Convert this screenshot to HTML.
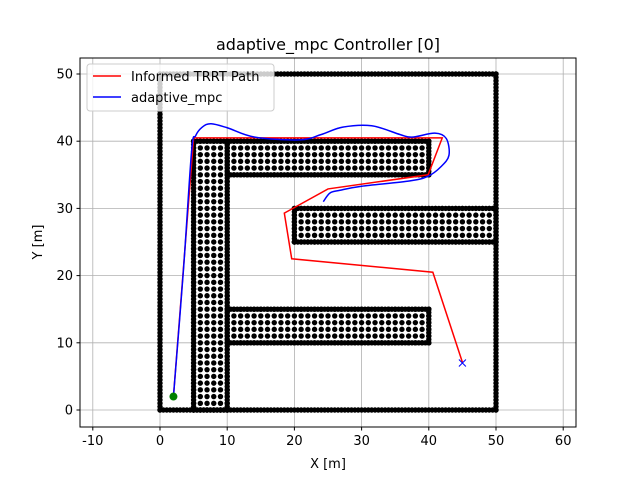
<!DOCTYPE html>
<html><head><meta charset="utf-8"><style>
body{margin:0;background:#fff;}
svg{display:block;font-family:"DejaVu Sans","Liberation Sans",sans-serif;}
</style></head><body>
<svg id="chart" width="640" height="480">
<rect width="640" height="480" fill="#fff"/>
<text x="328" y="50" text-anchor="middle" font-size="16">adaptive_mpc Controller [0]</text>
<g id="grid"></g>
<g id="obs"></g>
<g id="paths"></g>
<rect x="80" y="58" width="496" height="369" fill="none" stroke="#000" stroke-width="1"/>
<g id="ticks" font-size="13"></g>
<text x="328" y="468" text-anchor="middle" font-size="13">X [m]</text>
<text x="0" y="0" transform="translate(42,242) rotate(-90)" text-anchor="middle" font-size="13">Y [m]</text>
<g>
<rect x="87" y="64" width="187" height="47" rx="3" fill="#fff" fill-opacity="0.8" stroke="#ccc"/>
<line x1="93" y1="76" x2="121" y2="76" stroke="red" stroke-width="1.5"/>
<text x="131" y="81" font-size="13">Informed TRRT Path</text>
<line x1="93" y1="97" x2="121" y2="97" stroke="blue" stroke-width="1.5"/>
<text x="131" y="102" font-size="13">adaptive_mpc</text>
</g>
</svg>
<script>
const xTicks=[-10,0,10,20,30,40,50,60];
const yTicks=[0,10,20,30,40,50];
const blocks=[[5,10,0,40],[10,40,35,40],[10,40,10,15],[20,50,25,30]];
const boundary=[0,50,0,50];
const redX=[2,5,42,39.9,25,18.5,19.6,40.6,45];
const redY=[2,40.5,40.5,35,32.9,29.3,22.5,20.5,7.1];
const blueX=[2,3.5,4.7,5.3,6.3,7.6,10,14.1,20.8,24,27.2,31.5,35.7,37.5,40.9,42.6,43,41.8,39.9,37.2,30,26.8,25.3,24.3];
const blueY=[2,21,38.5,40.8,42.1,42.6,42,40.6,40.2,41,42.1,42.3,41,40.6,41.2,40.4,37.9,36.2,34.8,34.1,33.3,32.7,32.3,31];
const start=[2,2], goal=[45,7];
const X=v=>160+(v)*6.72, Y=v=>410-(v)*6.72;
const NS="http://www.w3.org/2000/svg";
function mk(tag,attrs,parent){const e=document.createElementNS(NS,tag);for(const k in attrs)e.setAttribute(k,attrs[k]);parent.appendChild(e);return e;}
const grid=document.getElementById('grid'),ticks=document.getElementById('ticks');
xTicks.forEach(t=>{const x=X(t);
 const g=mk('line',{x1:x,x2:x,y1:58,y2:427,stroke:'#b0b0b0','stroke-width':0.8},grid);
 
 
 mk('line',{x1:x,x2:x,y1:427,y2:430.5,stroke:'#000'},ticks);
 const tx=mk('text',{x:x,y:445,'text-anchor':'middle'},ticks);tx.textContent=t;
 
 });
yTicks.forEach(t=>{const y=Y(t);
 const g=mk('line',{x1:80,x2:576,y1:y,y2:y,stroke:'#b0b0b0','stroke-width':0.8},grid);
 
 
 mk('line',{x1:76.5,x2:80,y1:y,y2:y,stroke:'#000'},ticks);
 const tx=mk('text',{x:73,y:y+4.5,'text-anchor':'end'},ticks);tx.textContent=t;
 
 });
const obs=document.getElementById('obs');
function dot(x,y){mk('circle',{cx:X(x),cy:Y(y),r:2.7,fill:'#000'},obs);}
function outline(b){const [x0,x1,y0,y1]=b;
 for(let x=x0;x<=x1+1e-9;x+=0.5){dot(x,y0);dot(x,y1);}
 for(let y=y0;y<=y1+1e-9;y+=0.5){dot(x0,y);dot(x1,y);}}
blocks.forEach(b=>{const [x0,x1,y0,y1]=b;
 for(let x=x0;x<=x1;x++)for(let y=y0;y<=y1;y++)dot(x,y);
 outline(b);});
outline(boundary);
const paths=document.getElementById('paths');
const rp=mk('polyline',{points:redX.map((v,i)=>X(v)+','+Y(redY[i])).join(' '),fill:'none',stroke:'red','stroke-width':1.5},paths);


let d='M'+X(blueX[0])+' '+Y(blueY[0]);
for(let i=1;i<blueX.length;i++){const p0=[X(blueX[Math.max(i-2,0)]),Y(blueY[Math.max(i-2,0)])],p1=[X(blueX[i-1]),Y(blueY[i-1])],p2=[X(blueX[i]),Y(blueY[i])],p3=[X(blueX[Math.min(i+1,blueX.length-1)]),Y(blueY[Math.min(i+1,blueX.length-1)])];
 const c1=[p1[0]+(p2[0]-p0[0])/6,p1[1]+(p2[1]-p0[1])/6],c2=[p2[0]-(p3[0]-p1[0])/6,p2[1]-(p3[1]-p1[1])/6];
 d+=` C${c1[0]} ${c1[1]} ${c2[0]} ${c2[1]} ${p2[0]} ${p2[1]}`;}
const bp=mk('path',{d:d,fill:'none',stroke:'blue','stroke-width':1.5},paths);


const s=mk('circle',{cx:X(start[0]),cy:Y(start[1]),r:4,fill:'green'},paths);


const gx=X(goal[0]),gy=Y(goal[1]);
const gm=mk('path',{d:`M${gx-3.5} ${gy-3.5}L${gx+3.5} ${gy+3.5}M${gx-3.5} ${gy+3.5}L${gx+3.5} ${gy-3.5}`,stroke:'blue','stroke-width':1},paths);


</script>
</body></html>
